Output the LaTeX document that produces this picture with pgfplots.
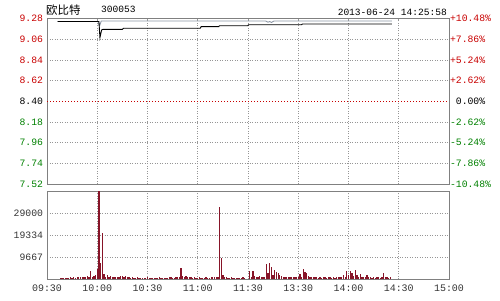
\documentclass[border=0pt]{standalone}
\usepackage{pgfplots}
\pgfplotsset{compat=1.18}
\usepackage{pgfplotstable}
\usepackage{fontspec}
\setmainfont{Liberation Sans}
\newfontfamily\monofont{Liberation Mono}
\newfontfamily\cjk{Noto Sans CJK SC}
\definecolor{upred}{RGB}{200,0,0}
\definecolor{dngreen}{RGB}{0,128,0}
\definecolor{volred}{RGB}{135,20,40}
\definecolor{frame}{RGB}{128,128,128}
\definecolor{gridc}{RGB}{150,150,150}
\definecolor{avgc}{RGB}{140,150,165}

\pgfplotstableread{
x y
6.4 9.250
31.0 9.250
31.6 9.078
32.6 9.160
33.5 9.167
45.0 9.167
45.6 9.178
91.5 9.178
92.0 9.195
102.5 9.195
103.0 9.205
119.9 9.205
120.3 9.216
152.0 9.216
152.5 9.224
205.9 9.224
}\pricetable

\pgfplotstableread{
x y
6.4 9.250
30.5 9.250
31.4 9.205
32.4 9.255
130.5 9.255
132.0 9.243
133.0 9.250
134.0 9.240
135.5 9.255
205.9 9.255
}\avgtable

\pgfplotstableread{
x y
8 700
9 600
10 650
11 700
12 650
13 700
14 800
15 650
16 1100
17 700
18 800
19 1200
20 900
21 1100
22 800
23 1000
24 1300
25 1100
26 3650
27 1200
28 1400
29 2100
30 4500
31 52000
32 7300
33 20400
34 2300
35 1200
36 1700
37 1100
38 1500
39 1200
40 1000
41 900
42 1100
43 900
44 1500
45 1400
46 1000
47 1450
48 900
49 800
50 700
51 800
52 700
53 750
54 800
55 700
56 650
57 700
58 750
59 700
60 800
61 700
62 700
63 650
64 700
65 750
66 700
67 800
68 700
69 650
70 700
71 750
72 700
73 800
74 900
75 700
76 750
77 900
78 1000
79 1100
80 5100
81 1450
82 900
83 1600
84 1000
85 800
86 900
87 700
88 800
89 750
90 700
91 800
92 700
93 750
94 700
95 800
96 700
97 750
98 800
99 900
100 800
101 1000
102 900
103 31800
104 9500
105 1900
106 900
107 800
108 750
109 700
110 800
111 700
112 750
113 700
114 700
115 750
116 700
117 800
118 700
121 3650
122 900
123 3650
124 1600
125 1000
126 800
127 1450
128 900
129 800
130 1000
131 6700
132 2600
133 7300
134 5500
135 1900
136 4100
137 3200
138 2600
139 1900
140 1300
141 1100
142 900
143 1000
144 800
145 900
146 1100
147 800
148 900
149 1000
150 1200
151 2300
152 900
153 4650
154 3350
155 2900
156 1300
157 1000
158 900
159 800
160 900
161 1000
162 700
163 800
164 750
165 900
166 800
167 700
168 800
169 900
170 750
171 800
172 700
173 900
174 1000
175 1200
176 900
177 1750
178 1100
179 3650
180 2000
181 3650
182 2600
183 1300
184 4100
185 1900
186 1200
187 2450
188 1000
189 900
190 1100
191 1900
192 800
193 900
194 700
195 800
196 750
197 900
198 800
199 700
200 900
201 2900
202 800
203 900
204 700
205 800
}\voltable

\begin{document}
\begin{tikzpicture}[x=1bp,y=1bp]
\path[use as bounding box] (0,0) rectangle (500,300);

\pgfplotsset{
  chartbase/.style={
    scale only axis,
    width=402bp,
    xmin=0, xmax=240,
    xtick={0,30,60,90,120,150,180,210,240},
    major tick length=0pt,
    axis line style={frame, line width=1bp},
    grid=major,
    grid style={gridc, line width=0.75bp, dash pattern=on 1bp off 1.5bp},
    tick label style={font=\monofont\fontsize{9.8}{10}\selectfont},
  }
}

% price panel (left labels)
\begin{axis}[chartbase,
  at={(47bp,116bp)}, anchor=south west,
  height=165.3bp,
  ymin=7.52, ymax=9.28,
  xticklabels={},
  ytick={7.52,7.74,7.96,8.18,8.62,8.84,9.06,9.28},
  yticklabels={\textcolor{dngreen}{7.52},\textcolor{dngreen}{7.74},\textcolor{dngreen}{7.96},\textcolor{dngreen}{8.18},\textcolor{upred}{8.62},\textcolor{upred}{8.84},\textcolor{upred}{9.06},\textcolor{upred}{9.28}},
  extra y ticks={8.40},
  extra y tick labels={8.40},
  extra y tick style={grid style={upred, line width=0.8bp, dash pattern=on 1bp off 2bp}},
  yticklabel style={xshift=-0.5bp},
]
\addplot[avgc, line width=0.9bp] table[x=x,y=y] {\avgtable};
\addplot[black, line width=0.9bp] table[x=x,y=y] {\pricetable};
\end{axis}

% price panel (right percentage labels)
\begin{axis}[
  scale only axis,
  width=402bp, height=165.3bp,
  at={(47bp,116bp)}, anchor=south west,
  xmin=0, xmax=240,
  ymin=-10.48, ymax=10.48,
  axis y line*=right,
  axis x line=none,
  axis line style={frame, line width=1bp},
  major tick length=0pt,
  ytick={-10.48,-7.86,-5.24,-2.62,0,2.62,5.24,7.86,10.48},
  yticklabels={\textcolor{dngreen}{-10.48\%},\textcolor{dngreen}{-7.86\%},\textcolor{dngreen}{-5.24\%},\textcolor{dngreen}{-2.62\%},\ 0.00\%,\textcolor{upred}{+2.62\%},\textcolor{upred}{+5.24\%},\textcolor{upred}{+7.86\%},\textcolor{upred}{+10.48\%}},
  yticklabel style={font=\monofont\fontsize{9.8}{10}\selectfont, anchor=west, xshift=-2.5bp},
]
\end{axis}

% volume panel
\begin{axis}[chartbase,
  at={(47bp,20.7bp)}, anchor=south west,
  height=88.3bp,
  ymin=0, ymax=38667,
  ytick={9667,19334,29000},
  yticklabels={9667,19334,29000},
  yticklabel style={text=black!80, xshift=-0.5bp},
  xticklabels={09:30,10:00,10:30,11:00,11:30,13:30,14:00,14:30,15:00},
  xticklabel style={text=black!80, font=\monofont\fontsize{10}{10}\selectfont, yshift=-2bp},
  scaled y ticks=false,
]
\addplot[ycomb, volred, line width=1.3bp, mark=none] table[x=x,y=y] {\voltable};
\end{axis}

% header texts
\node[anchor=west, inner sep=0pt] at (46bp,290bp) {\cjk\fontsize{11.5}{12}\selectfont 欧比特};
\node[anchor=west, inner sep=0pt] at (101bp,290.5bp) {\monofont\fontsize{9.6}{10}\selectfont 300053};
\node[anchor=east, inner sep=0pt] at (447bp,287.5bp) {\monofont\fontsize{9.6}{10}\selectfont 2013-06-24 14:25:58};
\end{tikzpicture}
\end{document}
